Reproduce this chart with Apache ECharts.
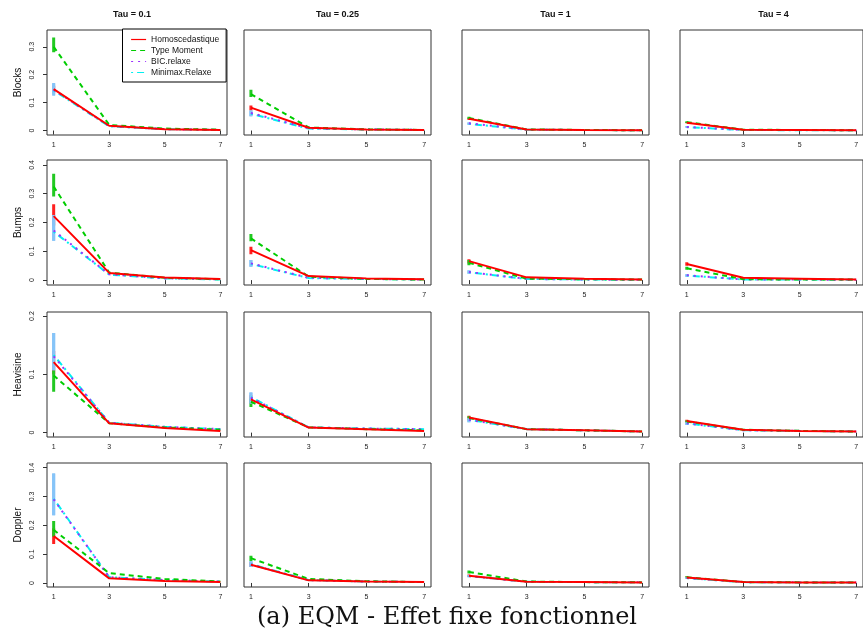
<!DOCTYPE html>
<html><head><meta charset="utf-8">
<script src="https://cdn.jsdelivr.net/npm/echarts@6/dist/echarts.min.js"></script>
<style>html,body{margin:0;padding:0;background:#fff}#c{width:863px;height:635px}</style>
</head><body><div id="c"></div><script>
// ---------- data ----------
const xValues = [1, 3, 5, 7];
const tauLabels = ['Tau = 0.1', 'Tau = 0.25', 'Tau = 1', 'Tau = 4'];
const functionNames = ['Blocks', 'Bumps', 'Heavisine', 'Doppler'];
const methodNames = ['Homoscedastique', 'Type Moment', 'BIC.relaxe', 'Minimax.Relaxe'];
const captionText = '(a) EQM - Effet fixe fonctionnel';
const yTickValues = [[0, 0.1, 0.2, 0.3], [0, 0.1, 0.2, 0.3, 0.4], [0, 0.1, 0.2], [0, 0.1, 0.2, 0.3, 0.4]];
const yLimits = [[-0.016, 0.36], [-0.017, 0.417], [-0.0075, 0.207], [-0.014, 0.416]];
const xLimits = [0.76, 7.24];

// each: one row per tau (0.1, 0.25, 1, 4), values at x = 1,3,5,7
const blocksHomo    = [[0.148,0.017,0.005,0.002],[0.082,0.010,0.004,0.002],[0.042,0.004,0.002,0.001],[0.028,0.003,0.002,0.001]];
const blocksMoment  = [[0.300,0.020,0.007,0.003],[0.130,0.011,0.004,0.002],[0.045,0.004,0.002,0.001],[0.030,0.003,0.002,0.001]];
const blocksBIC     = [[0.146,0.016,0.005,0.002],[0.063,0.008,0.004,0.002],[0.026,0.003,0.002,0.001],[0.013,0.002,0.002,0.001]];
const blocksMinimax = [[0.144,0.015,0.005,0.002],[0.060,0.007,0.004,0.002],[0.024,0.003,0.002,0.001],[0.012,0.002,0.001,0.001]];

const bumpsHomo     = [[0.222,0.025,0.009,0.004],[0.104,0.014,0.006,0.003],[0.066,0.0095,0.005,0.002],[0.056,0.008,0.005,0.002]];
const bumpsMoment   = [[0.325,0.026,0.008,0.003],[0.145,0.012,0.004,0.002],[0.060,0.005,0.003,0.002],[0.041,0.003,0.002,0.002]];
const bumpsBIC      = [[0.172,0.020,0.006,0.003],[0.058,0.008,0.004,0.002],[0.028,0.004,0.002,0.001],[0.017,0.002,0.002,0.001]];
const bumpsMinimax  = [[0.168,0.019,0.006,0.002],[0.056,0.007,0.004,0.002],[0.027,0.004,0.002,0.001],[0.016,0.002,0.002,0.001]];

const heaviHomo     = [[0.121,0.016,0.008,0.003],[0.057,0.0086,0.006,0.003],[0.026,0.006,0.004,0.002],[0.020,0.005,0.003,0.002]];
const heaviMoment   = [[0.098,0.016,0.009,0.005],[0.053,0.009,0.006,0.004],[0.025,0.006,0.004,0.002],[0.019,0.005,0.003,0.002]];
const heaviBIC      = [[0.131,0.017,0.010,0.006],[0.060,0.009,0.007,0.006],[0.022,0.006,0.004,0.002],[0.016,0.004,0.003,0.002]];
const heaviMinimax  = [[0.133,0.017,0.010,0.006],[0.061,0.009,0.007,0.006],[0.022,0.006,0.004,0.002],[0.016,0.004,0.003,0.002]];

const dopplerHomo    = [[0.163,0.016,0.007,0.003],[0.063,0.009,0.005,0.003],[0.025,0.004,0.003,0.002],[0.019,0.003,0.002,0.002]];
const dopplerMoment  = [[0.184,0.034,0.014,0.005],[0.086,0.014,0.006,0.003],[0.038,0.005,0.003,0.002],[0.020,0.003,0.002,0.002]];
const dopplerBIC     = [[0.290,0.020,0.010,0.005],[0.064,0.010,0.005,0.003],[0.024,0.004,0.003,0.002],[0.017,0.003,0.002,0.002]];
const dopplerMinimax = [[0.292,0.020,0.010,0.005],[0.065,0.010,0.005,0.003],[0.024,0.004,0.003,0.002],[0.017,0.003,0.002,0.002]];

// error bars at x = 1: per tau, per method [low, high]
const blocksErr  = [[[0.135,0.160],[0.280,0.333],[0.128,0.170],[0.125,0.168]],
                    [[0.072,0.090],[0.120,0.146],[0.052,0.072],[0.050,0.072]],
                    [[0.038,0.046],[0.041,0.049],[0.022,0.030],[0.020,0.028]],
                    [[0.026,0.031],[0.027,0.033],[0.011,0.016],[0.010,0.015]]];
const bumpsErr   = [[[0.190,0.263],[0.290,0.369],[0.137,0.226],[0.137,0.226]],
                    [[0.090,0.116],[0.135,0.160],[0.046,0.070],[0.046,0.070]],
                    [[0.058,0.072],[0.052,0.070],[0.022,0.034],[0.022,0.033]],
                    [[0.050,0.062],[0.036,0.046],[0.012,0.020],[0.012,0.020]]];
const heaviErr   = [[[0.100,0.140],[0.070,0.107],[0.107,0.171],[0.107,0.171]],
                    [[0.050,0.064],[0.044,0.058],[0.050,0.069],[0.050,0.069]],
                    [[0.022,0.029],[0.021,0.028],[0.018,0.025],[0.018,0.025]],
                    [[0.017,0.022],[0.016,0.021],[0.013,0.018],[0.013,0.018]]];
const dopplerErr = [[[0.135,0.190],[0.160,0.215],[0.235,0.380],[0.235,0.380]],
                    [[0.055,0.072],[0.075,0.094],[0.055,0.075],[0.055,0.075]],
                    [[0.021,0.029],[0.033,0.043],[0.020,0.028],[0.020,0.028]],
                    [[0.016,0.022],[0.017,0.023],[0.014,0.020],[0.014,0.020]]];

// ---------- layout / style ----------
const curves = [
  [blocksHomo, blocksMoment, blocksBIC, blocksMinimax],
  [bumpsHomo, bumpsMoment, bumpsBIC, bumpsMinimax],
  [heaviHomo, heaviMoment, heaviBIC, heaviMinimax],
  [dopplerHomo, dopplerMoment, dopplerBIC, dopplerMinimax]
];
const errs = [blocksErr, bumpsErr, heaviErr, dopplerErr];

const colLeft = [47, 244, 462, 680];
const colWidth = [180, 187, 187, 187];
const rowTop = [30, 160, 312, 463];
const rowHeight = [105, 125, 125, 124];

const FONT = 'Liberation Sans, Arial, sans-serif';
const lineColors = ['#FF0000', '#00CD00', '#9B30FF', '#00F0F0'];
const errColors = ['#FF2020', '#22C822', '#86C4F8', '#86C4F8'];
const lineTypes = ['solid', [5, 4], [2, 5], [2, 4, 7, 4]];
const lineWidths = [2, 2, 2, 2];
const drawOrder = [3, 2, 1, 0];

const grids = [], xAxes = [], yAxes = [], series = [];
for (let r = 0; r < 4; r++) {
  for (let c = 0; c < 4; c++) {
    const idx = r * 4 + c;
    grids.push({
      left: colLeft[c], top: rowTop[r], width: colWidth[c], height: rowHeight[r],
      show: true, borderColor: '#333', borderWidth: 1, backgroundColor: '#fff', containLabel: false
    });
    xAxes.push({
      type: 'value', gridIndex: idx, min: xLimits[0], max: xLimits[1],
      axisLine: { show: false }, splitLine: { show: false },
      axisTick: { show: true, customValues: xValues, length: 4, lineStyle: { color: '#333', width: 1 } },
      axisLabel: { show: true, customValues: xValues, fontSize: 7, margin: 7, color: '#222', fontFamily: FONT,
                   formatter: v => String(v) }
    });
    yAxes.push({
      type: 'value', gridIndex: idx, min: yLimits[r][0], max: yLimits[r][1],
      axisLine: { show: false }, splitLine: { show: false },
      axisTick: { show: c === 0, customValues: yTickValues[r], length: 4, lineStyle: { color: '#333', width: 1 } },
      axisLabel: { show: c === 0, customValues: yTickValues[r], rotate: 90, fontSize: 7, margin: 11,
                   color: '#222', fontFamily: FONT, formatter: v => (v === 0 ? '0' : String(+v.toFixed(3))) },
      name: c === 0 ? functionNames[r] : '', nameLocation: 'middle', nameGap: 24, nameRotate: 90,
      nameTextStyle: { fontSize: 10, color: '#111', fontFamily: FONT }
    });
    // error bars at x = 1
    for (let m = 0; m < 4; m++) {
      const e = errs[r][c][m];
      series.push({
        type: 'line', name: 'err', xAxisIndex: idx, yAxisIndex: idx, silent: true, z: 2,
        data: [[xValues[0], e[0]], [xValues[0], e[1]]], symbol: 'none',
        lineStyle: { color: errColors[m], width: 3 }, itemStyle: { color: errColors[m] }
      });
    }
    for (const m of drawOrder) {
      const vals = curves[r][m][c];
      series.push({
        type: 'line', name: methodNames[m], xAxisIndex: idx, yAxisIndex: idx, silent: true, z: 3,
        data: xValues.map((x, i) => [x, vals[i]]), symbol: 'none',
        lineStyle: { color: lineColors[m], width: lineWidths[m], type: lineTypes[m] },
        itemStyle: { color: lineColors[m] }
      });
    }
  }
}

const graphics = [];
for (let c = 0; c < 4; c++) {
  graphics.push({
    type: 'text', x: colLeft[c] + colWidth[c] / 2 - (c === 0 ? 5 : 0), y: 15,
    style: { text: tauLabels[c], fontSize: 9, fontWeight: 'bold', fontFamily: FONT, fill: '#111',
             textAlign: 'center', textVerticalAlign: 'middle' }
  });
}
graphics.push({
  type: 'text', x: 447, y: 618,
  style: { text: captionText, fontSize: 24, fontFamily: 'DejaVu Serif, Liberation Serif, serif', fill: '#111',
           textAlign: 'center', textVerticalAlign: 'middle' }
});

const chart = echarts.init(document.getElementById('c'), null, { renderer: 'canvas' });
chart.setOption({
  animation: false,
  backgroundColor: '#fff',
  grid: grids, xAxis: xAxes, yAxis: yAxes, series: series,
  legend: {
    data: methodNames, orient: 'vertical', left: 122.5, top: 29,
    padding: [6, 7, 5, 8], itemWidth: 15, itemHeight: 8, itemGap: 2,
    borderColor: '#000', borderWidth: 1, backgroundColor: '#fff', selectedMode: false,
    itemStyle: { opacity: 0 },
    lineStyle: { width: 1.2 },
    textStyle: { fontSize: 8.5, fontFamily: FONT, color: '#111' }, z: 10
  },
  graphic: graphics
});
</script></body></html>
